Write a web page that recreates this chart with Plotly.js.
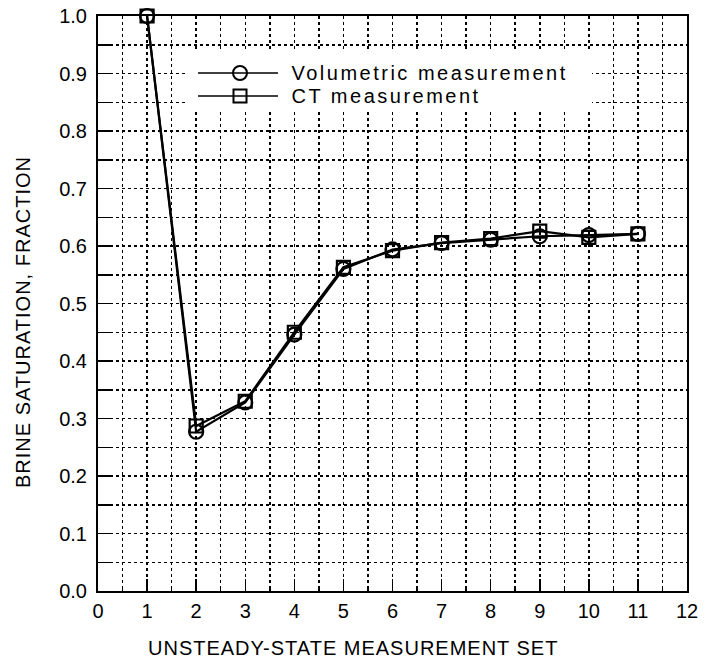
<!DOCTYPE html>
<html>
<head>
<meta charset="utf-8">
<script src="https://cdn.plot.ly/plotly-3.0.1.min.js"></script>
<style>
  html, body { margin: 0; padding: 0; background: #fff; }
  #chart { width: 706px; height: 666px; }
  /* wider tracking for the key entries and the axis titles */
  .annotation[data-index="0"] .annotation-text,
  .annotation[data-index="1"] .annotation-text { letter-spacing: 2.5px; }
  .annotation[data-index="2"] .annotation-text,
  .annotation[data-index="3"] .annotation-text { letter-spacing: 1px; }
</style>
</head>
<body>
<div id="chart"></div>
<script>
// Unsteady-state measurement sets and brine saturation (fraction)
const measurementSet = [1, 2, 3, 4, 5, 6, 7, 8, 9, 10, 11];
const volumetric = [1.0, 0.277, 0.328, 0.446, 0.560, 0.594, 0.605, 0.611, 0.617, 0.619, 0.621];
const ctScan     = [1.0, 0.287, 0.330, 0.450, 0.563, 0.592, 0.606, 0.613, 0.626, 0.615, 0.621];
const seriesNames = ['Volumetric measurement', 'CT measurement'];
const xTicks = [0, 1, 2, 3, 4, 5, 6, 7, 8, 9, 10, 11, 12];
const yTicks = [0.0, 0.1, 0.2, 0.3, 0.4, 0.5, 0.6, 0.7, 0.8, 0.9, 1.0];
const xTitle = 'UNSTEADY-STATE MEASUREMENT SET';
const yTitle = 'BRINE SATURATION, FRACTION';

const W = 706, H = 666;
const M = { l: 98, r: 19, t: 16, b: 75 };
const PW = W - M.l - M.r, PH = H - M.t - M.b;
// pixel -> paper helpers for the hand-drawn key and titles
const px = v => (v - M.l) / PW;
const py = v => (H - M.b - v) / PH;

const FONT = 'Liberation Sans, Arial, Helvetica, sans-serif';
const textFont = { family: FONT, size: 20, color: '#000' };
const KEY_TRACKING = 2.5; // must match the letter-spacing rule above

const traces = [
  {
    x: measurementSet, y: volumetric, name: seriesNames[0],
    mode: 'lines+markers', cliponaxis: false,
    line: { color: '#000', width: 2.2 },
    marker: { symbol: 'circle-open', size: 14, color: '#000', line: { width: 2.2, color: '#000' } }
  },
  {
    x: measurementSet, y: ctScan, name: seriesNames[1],
    mode: 'lines+markers', cliponaxis: false,
    line: { color: '#000', width: 2.2 },
    marker: { symbol: 'square-open', size: 13, color: '#000', line: { width: 2.2, color: '#000' } }
  }
];

const gridStyle = { gridcolor: '#000', gridwidth: 1.5, griddash: 'dot' };

// Key: white box, sample lines, marker glyphs
const keyRows = [73, 96];
const shapes = [
  { type: 'rect', xref: 'paper', yref: 'paper', layer: 'above',
    x0: px(186), x1: px(592), y0: py(52), y1: py(112),
    fillcolor: '#fff', line: { width: 0 } }
];
keyRows.forEach((row, i) => {
  shapes.push({ type: 'line', xref: 'paper', yref: 'paper', layer: 'above',
    x0: px(198), x1: px(278), y0: py(row), y1: py(row),
    line: { color: '#000', width: 1.5 } });
  const r = i === 0 ? 7 : 6.5;
  shapes.push({ type: i === 0 ? 'circle' : 'rect', xref: 'paper', yref: 'paper', layer: 'above',
    x0: px(240 - r), x1: px(240 + r), y0: py(row + r), y1: py(row - r),
    fillcolor: 'rgba(0,0,0,0)', line: { color: '#000', width: 2 } });
});

// the text box is measured without tracking and the text is centred in it,
// so push each entry right by half of the extra width
const annotations = keyRows.map((row, i) => ({
  xref: 'paper', yref: 'paper',
  x: px(291 + (seriesNames[i].length - 1) * KEY_TRACKING / 2), y: py(row),
  xanchor: 'left', yanchor: 'middle', showarrow: false,
  text: seriesNames[i], font: textFont
}));
annotations.push({
  xref: 'paper', yref: 'paper', x: px(353), y: py(648),
  xanchor: 'center', yanchor: 'middle', showarrow: false,
  text: xTitle, font: textFont
});
annotations.push({
  xref: 'paper', yref: 'paper', x: px(23), y: py(322),
  xanchor: 'center', yanchor: 'middle', showarrow: false, textangle: -90,
  text: yTitle, font: textFont
});

const layout = {
  width: W, height: H,
  margin: M,
  paper_bgcolor: '#fff', plot_bgcolor: '#fff',
  showlegend: false,
  font: textFont,
  xaxis: Object.assign({
    range: [0, 12], tickvals: xTicks, ticktext: xTicks.map(String),
    showgrid: true, zeroline: false,
    showline: true, linecolor: '#000', linewidth: 2, mirror: true,
    ticks: 'inside', ticklen: 12, tickwidth: 1.5, tickcolor: '#000',
    ticklabelstandoff: 1,
    tickfont: textFont,
    minor: Object.assign({ dtick: 0.5, tick0: 0, showgrid: true, ticks: 'inside', ticklen: 3, tickwidth: 1.5, tickcolor: '#000' }, gridStyle)
  }, gridStyle),
  yaxis: Object.assign({
    range: [0, 1], tickvals: yTicks, ticktext: yTicks.map(v => v.toFixed(1)),
    showgrid: true, zeroline: false,
    showline: true, linecolor: '#000', linewidth: 2, mirror: true,
    ticks: 'inside', ticklen: 13, tickwidth: 1.5, tickcolor: '#000',
    ticklabelstandoff: 5,
    tickfont: textFont,
    minor: Object.assign({ dtick: 0.05, tick0: 0, showgrid: true, ticks: 'inside', ticklen: 12, tickwidth: 1.5, tickcolor: '#000' }, gridStyle)
  }, gridStyle),
  shapes: shapes,
  annotations: annotations
};

Plotly.newPlot('chart', traces, layout, { displayModeBar: false, staticPlot: true });
</script>
</body>
</html>
